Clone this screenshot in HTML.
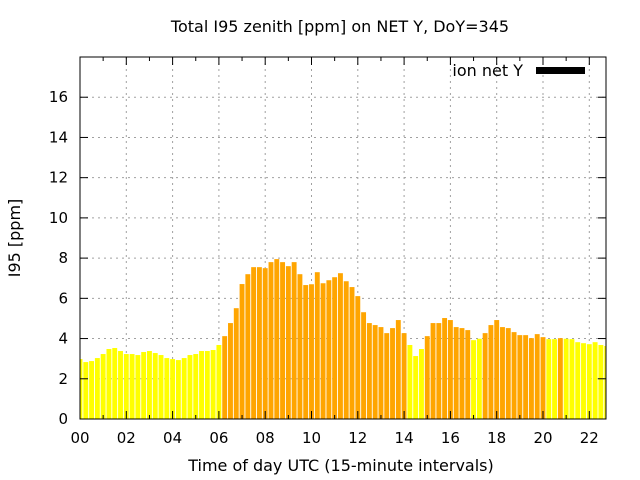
<!DOCTYPE html>
<html><head><meta charset="utf-8"><style>
body{margin:0;background:#fff}
svg{display:block;font-family:"DejaVu Sans","Liberation Sans",sans-serif}
</style></head><body>
<svg width="640" height="480" viewBox="0 0 640 480" xmlns="http://www.w3.org/2000/svg">
<rect width="640" height="480" fill="#fff"/>
<defs><clipPath id="pc"><rect x="80" y="57" width="526" height="362"/></clipPath></defs>
<text x="340" y="32" font-size="16" text-anchor="middle">Total I95 zenith [ppm] on NET Y, DoY=345</text>
<text transform="translate(20,238) rotate(-90)" font-size="16" text-anchor="middle">I95 [ppm]</text>
<text x="341" y="471" font-size="16" text-anchor="middle">Time of day UTC (15-minute intervals)</text>
<g id="grid"></g>
<g id="bars" clip-path="url(#pc)"></g>
<g id="axes"></g>
<g>
<text x="523" y="76" font-size="16" text-anchor="end">ion net Y</text>
<rect x="536" y="67" width="49" height="7" fill="#000"/>
</g>
</svg>
<script>
const values=[2.98,2.83,2.88,3.03,3.23,3.48,3.53,3.38,3.23,3.23,3.18,3.33,3.38,3.28,3.18,3.03,2.98,2.93,3.03,3.18,3.23,3.38,3.38,3.43,3.68,4.12,4.77,5.51,6.71,7.2,7.55,7.55,7.5,7.8,7.95,7.8,7.6,7.8,7.2,6.66,6.7,7.3,6.75,6.9,7.05,7.25,6.85,6.56,6.11,5.31,4.77,4.67,4.57,4.27,4.52,4.92,4.27,3.68,3.13,3.48,4.12,4.77,4.77,5.02,4.92,4.57,4.52,4.42,3.92,3.99,4.27,4.67,4.92,4.57,4.52,4.32,4.17,4.17,4.02,4.22,4.07,3.97,3.97,4.02,3.99,3.97,3.82,3.77,3.72,3.82,3.68,3.63];
const yTicks=[0,2,4,6,8,10,12,14,16];
const xTickLabels=["00","02","04","06","08","10","12","14","16","18","20","22"];
const NS="http://www.w3.org/2000/svg";
const X0=80,X1=606,Y0=419,Y1=57;
const xs=h=>X0+h*23.15;
const ys=v=>Y0-(v/18)*(Y0-Y1);
function mk(t,a,p){const e=document.createElementNS(NS,t);for(const k in a)e.setAttribute(k,a[k]);p.appendChild(e);return e;}
const grid=document.getElementById('grid'),bars=document.getElementById('bars'),axes=document.getElementById('axes');
yTicks.forEach(v=>{const y=ys(v);
 if(v>0){const g=mk('line',{x1:X0,x2:X1,y1:y,y2:y,stroke:'#a0a0a0','stroke-dasharray':'2,4'},grid);
 
 }
 const t=mk('line',{x1:X0,x2:X0+8,y1:y,y2:y,stroke:'#000'},axes);
 
 
 const t2=mk('line',{x1:X1-8,x2:X1,y1:y,y2:y,stroke:'#000'},axes);
 
 
 const l=mk('text',{x:68,y:y+5,'font-size':15,'text-anchor':'end'},axes);l.textContent=v;
 
 
});
xTickLabels.forEach((s,i)=>{const x=xs(i*2);
 if(i>0){const g=mk('line',{x1:x,x2:x,y1:Y1,y2:Y0,stroke:'#a0a0a0','stroke-dasharray':'2,4'},grid);
 
 }
 const l=mk('text',{x:x,y:443,'font-size':15,'text-anchor':'middle'},axes);l.textContent=s;
 
 
});
for(let h=0;h<=22;h++){const x=xs(h),len=h%2?4:8;
 const t=mk('line',{x1:x,x2:x,y1:Y0,y2:Y0-len,stroke:'#000'},axes);
 
 
 const t2=mk('line',{x1:x,x2:x,y1:Y1,y2:Y1+len,stroke:'#000'},axes);
 
 
}
values.forEach((v,i)=>{const cx=xs(i*0.25),w=4.9;
 const r=mk('rect',{x:cx-w/2,y:ys(v),width:w,height:Y0-ys(v),fill:v>=4?'#ffa500':'#ffff00'},bars);
 
 
});
const f=mk('rect',{x:X0,y:Y1,width:X1-X0,height:Y0-Y1,fill:'none',stroke:'#000','stroke-width':1},axes);


</script>
</body></html>
